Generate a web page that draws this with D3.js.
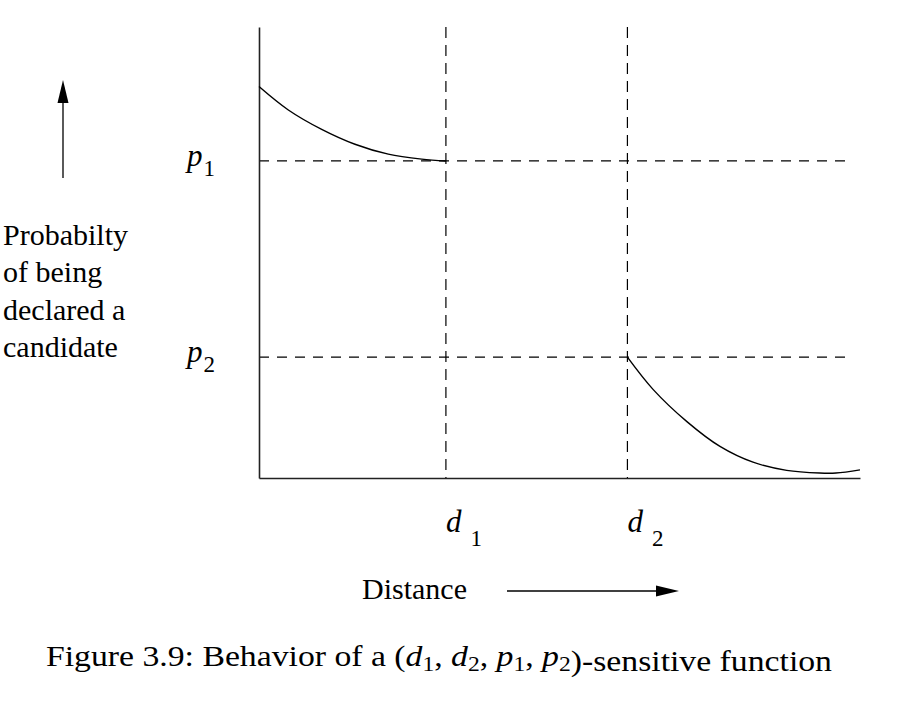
<!DOCTYPE html>
<html>
<head>
<meta charset="utf-8">
<script src="https://cdn.jsdelivr.net/npm/d3@7"></script>
<style>
  html, body { margin: 0; padding: 0; background: #fff; }
  svg { display: block; }
</style>
</head>
<body>
<svg id="chart" width="902" height="706"></svg>
<script>
// ---- data ----
const distSymbols = ["d", "d"];
const distSubs = ["1", "2"];
const distValues = [31.1, 61.3];          // d1, d2 on distance scale 0..100
const probSymbols = ["p", "p"];
const probSubs = ["1", "2"];
const probValues = [0.703, 0.268];        // p1, p2 on probability scale 0..1
const curve1X = [0, 4.88, 10.43, 15.97, 21.51, 27.07, 31.1];
const curve1Y = [0.868, 0.816, 0.773, 0.740, 0.718, 0.707, 0.703];
const curve2X = [61.3, 65.6, 71.2, 76.7, 82.2, 87.8, 93.3, 96.0, 100];
const curve2Y = [0.268, 0.196, 0.125, 0.070, 0.035, 0.017, 0.011, 0.011, 0.018];
const yTitleLines = ["Probabilty", "of being", "declared a", "candidate"];
const xTitle = "Distance";
const captionPrefix = "Figure 3.9: Behavior of a (";
const captionSuffix = ")-sensitive function";

// ---- layout ----
const svg = d3.select("#chart");
const plotLeft = 259, plotRight = 860, plotTop = 27, plotBottom = 478;
const x = d3.scaleLinear().domain([0, 100]).range([plotLeft, plotRight]);
const y = d3.scaleLinear().domain([0, 1]).range([plotBottom, plotTop]);
const serif = "'Liberation Serif', 'Times New Roman', serif";
const ink = "#000";

// dashed guides
svg.append("g").selectAll("line").data(probValues).join("line")
  .attr("x1", x(0)).attr("x2", 851)
  .attr("y1", d => y(d)).attr("y2", d => y(d))
  .attr("stroke", ink).attr("stroke-width", 1.2)
  .attr("stroke-dasharray", "10,8");
svg.append("g").selectAll("line").data(distValues).join("line")
  .attr("x1", d => x(d)).attr("x2", d => x(d))
  .attr("y1", y(1)).attr("y2", y(0))
  .attr("stroke", ink).attr("stroke-width", 1.2)
  .attr("stroke-dasharray", "11,7");

// axes
const xAxis = d3.axisBottom(x).tickValues([]).tickSizeOuter(0);
const yAxis = d3.axisLeft(y).tickValues([]).tickSizeOuter(0);
const gx = svg.append("g").attr("transform", `translate(0,${y(0)})`).call(xAxis);
const gy = svg.append("g").attr("transform", `translate(${x(0)},0)`).call(yAxis);
[gx, gy].forEach(g => g.select(".domain").attr("stroke", "#222").attr("stroke-width", 1.6));

// curves
const line = d3.line().x(d => x(d[0])).y(d => y(d[1])).curve(d3.curveCatmullRom.alpha(0.5));
[[curve1X, curve1Y], [curve2X, curve2Y]].forEach(([xs, ys]) => {
  svg.append("path").datum(xs.map((v, i) => [v, ys[i]]))
    .attr("d", line).attr("fill", "none")
    .attr("stroke", ink).attr("stroke-width", 1.4);
});

// p labels
probValues.forEach((v, i) => {
  const t = svg.append("text").attr("x", 187).attr("y", y(v) + 5)
    .attr("font-family", serif).attr("font-size", 31).attr("fill", ink);
  t.append("tspan").attr("font-style", "italic").text(probSymbols[i]);
  t.append("tspan").attr("font-size", 23).attr("dx", 1).attr("dy", 10).text(probSubs[i]);
});

// d labels
distValues.forEach((v, i) => {
  const t = svg.append("text").attr("x", x(v)).attr("y", 532)
    .attr("font-family", serif).attr("font-size", 31).attr("fill", ink);
  t.append("tspan").attr("font-style", "italic").text(distSymbols[i]);
  t.append("tspan").attr("font-size", 23).attr("dx", 9).attr("dy", 14).text(distSubs[i]);
});

// y title
svg.append("text").attr("font-family", serif).attr("font-size", 30).attr("fill", ink)
  .selectAll("tspan").data(yTitleLines).join("tspan")
  .attr("x", 3).attr("y", (d, i) => 245 + i * 37.3).text(d => d);

// up arrow
svg.append("line").attr("x1", 63).attr("x2", 63).attr("y1", 178).attr("y2", 100)
  .attr("stroke", ink).attr("stroke-width", 1.3);
svg.append("path").attr("d", "M63,80 L57.5,103 L68.5,103 Z").attr("fill", ink);

// x title + right arrow
svg.append("text").attr("x", 362).attr("y", 599)
  .attr("font-family", serif).attr("font-size", 30).attr("fill", ink).text(xTitle);
svg.append("line").attr("x1", 507).attr("x2", 660).attr("y1", 591).attr("y2", 591)
  .attr("stroke", ink).attr("stroke-width", 1.3);
svg.append("path").attr("d", "M679,591 L656,585.5 L656,596.5 Z").attr("fill", ink);

// caption
const capStart = 46, capWidth = 786;
const cap = svg.append("text").attr("x", capStart).attr("y", 666)
  .attr("font-family", serif).attr("font-size", 30).attr("fill", ink)
  .attr("textLength", capWidth).attr("lengthAdjust", "spacingAndGlyphs");
cap.append("tspan").text(captionPrefix);
const pairs = [["d","1"],["d","2"],["p","1"],["p","2"]];
pairs.forEach((p, i) => {
  cap.append("tspan").attr("font-style", "italic").text(p[0]);
  cap.append("tspan").attr("font-size", 21).attr("dy", 5).text(p[1]);
  cap.append("tspan").attr("dy", -5).text(i < pairs.length - 1 ? ", " : "");
});
cap.append("tspan").text(captionSuffix);
</script>
</body>
</html>
